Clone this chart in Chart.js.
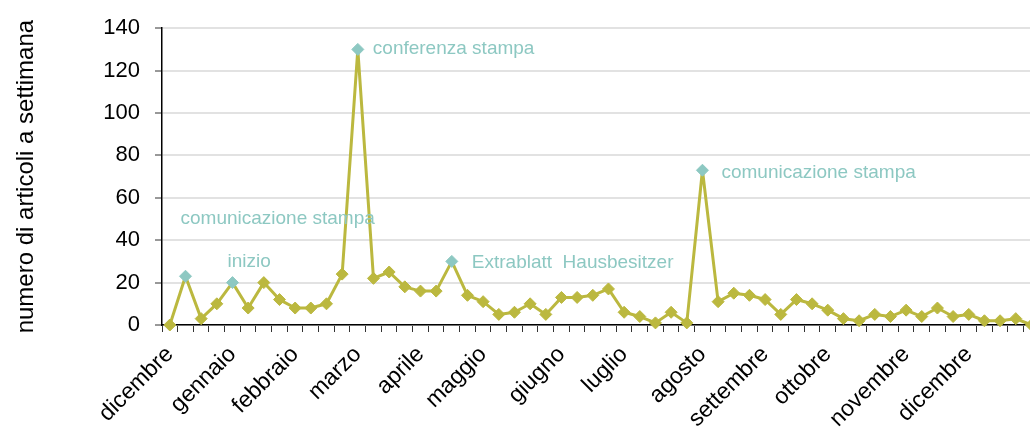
<!DOCTYPE html>
<html>
<head>
<meta charset="utf-8">
<script src="https://cdn.jsdelivr.net/npm/chart.js@4.4.1/dist/chart.umd.min.js"></script>
<style>
    html, body { margin: 0; padding: 0; background: #fff; overflow: hidden; }
    #wrap { width: 1060px; height: 428px; position: relative; }
</style>
</head>
<body>
<div id="wrap"><canvas id="weekly_chart" width="1060" height="428"></canvas></div>
<script>
// weekly article counts, one value per week
var values = [0, 23, 3, 10, 20, 8, 20, 12, 8, 8,
              10, 24, 130, 22, 25, 18, 16, 16, 30, 14,
              11, 5, 6, 10, 5, 13, 13, 14, 17, 6,
              4, 1, 6, 1, 73, 11, 15, 14, 12, 5,
              12, 10, 7, 3, 2, 5, 4, 7, 4, 8,
              4, 5, 2, 2, 3, 0];

// month name shown under the first week of each month
var month_weeks = [0, 4, 8, 12, 16, 20, 25, 29, 34, 38, 42, 47, 51];
var month_names = ['dicembre', 'gennaio', 'febbraio', 'marzo', 'aprile', 'maggio', 'giugno',
                   'luglio', 'agosto', 'settembre', 'ottobre', 'novembre', 'dicembre'];

var y_ticks = [0, 20, 40, 60, 80, 100, 120, 140];

// highlighted weeks and their notes
var note_weeks = [1, 4, 12, 18, 34];
var note_texts = ['comunicazione stampa', 'inizio', 'conferenza stampa', 'Extrablatt  Hausbesitzer', 'comunicazione stampa'];

var olive = '#bbb83f';
var teal = '#8dc8c2';

var labels = [];
for (var i = 0; i < values.length; i++) {
    labels.push('');
}
for (var m = 0; m < month_weeks.length; m++) {
    labels[month_weeks[m]] = month_names[m];
}

var point_colors = values.map(function (v, i) {
    return note_weeks.indexOf(i) >= 0 ? teal : olive;
});

// where each note sits relative to its point (px)
var note_offsets = [[-5, -57], [-5, -21], [15, -1], [20, 1], [19, 3]];

var notes_plugin = {
    id: 'notes',
    afterDatasetsDraw: function (chart) {
        var ctx = chart.ctx;
        var meta = chart.getDatasetMeta(0);
        ctx.save();
        ctx.font = '19px "Liberation Sans", Arial, sans-serif';
        ctx.fillStyle = teal;
        ctx.textAlign = 'left';
        ctx.textBaseline = 'middle';
        for (var n = 0; n < note_weeks.length; n++) {
            var pt = meta.data[note_weeks[n]];
            ctx.fillText(note_texts[n], pt.x + note_offsets[n][0], pt.y + note_offsets[n][1]);
        }
        ctx.restore();
    }
};

Chart.defaults.font.family = '"Liberation Sans", Arial, sans-serif';
Chart.defaults.color = '#000';

var ctx = document.getElementById('weekly_chart').getContext('2d');
var myChart = new Chart(ctx, {
    type: 'line',
    data: {
        labels: labels,
        datasets: [{
            data: values,
            borderColor: olive,
            borderWidth: 3,
            borderJoinStyle: 'round',
            pointStyle: 'rectRot',
            pointRadius: 6,
            pointBorderWidth: 1,
            pointBackgroundColor: point_colors,
            pointBorderColor: point_colors,
            tension: 0,
            clip: false
        }]
    },
    options: {
        responsive: false,
        animation: false,
        devicePixelRatio: 1,
        layout: { padding: { top: 27, right: 0, bottom: 0, left: 0 } },
        plugins: { legend: { display: false }, tooltip: { enabled: false } },
        scales: {
            x: {
                offset: true,
                grid: { offset: true, drawOnChartArea: false, tickLength: 7, tickColor: '#333', tickWidth: 1 },
                border: { color: '#000', width: 1.5 },
                ticks: { autoSkip: false, minRotation: 45, maxRotation: 45, padding: 9, font: { size: 23 } },
                afterFit: function (scale) { scale.height = 103; }
            },
            y: {
                min: 0,
                max: 140,
                afterBuildTicks: function (scale) {
                    scale.ticks = y_ticks.map(function (v) { return { value: v }; });
                },
                grid: { color: '#e2e2e2', lineWidth: 2, tickLength: 7, tickColor: '#333', tickWidth: 1 },
                border: { color: '#000', width: 1.5 },
                ticks: { padding: 15, font: { size: 22 } },
                title: {
                    display: true,
                    text: 'numero di articoli a settimana',
                    font: { size: 24 },
                    padding: { top: 12, bottom: 0 }
                },
                afterFit: function (scale) { scale.width = 162; }
            }
        }
    },
    plugins: [notes_plugin]
});
</script>
</body>
</html>
